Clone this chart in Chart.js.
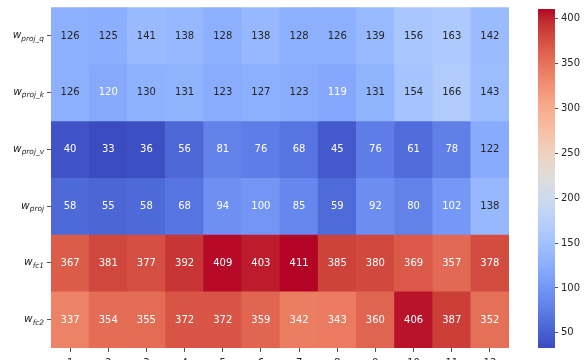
<!DOCTYPE html>
<html>
<head>
<meta charset="utf-8">
<script src="https://cdn.jsdelivr.net/npm/chart.js@4.4.0/dist/chart.umd.min.js"></script>
<style>
    html, body { margin: 0; padding: 0; background: #fff; }
    #wrap { position: relative; width: 587px; height: 360px; overflow: hidden; }
    #heat { position: absolute; left: 0; top: 0; }
    #cbar { position: absolute; left: 509px; top: 0; }
</style>
</head>
<body>
<div id="wrap">
    <canvas id="heat" width="509" height="360"></canvas>
    <canvas id="cbar" width="78" height="360"></canvas>
</div>
<script>
// layers (columns) and weight matrices (rows)
const layers = ['1', '2', '3', '4', '5', '6', '7', '8', '9', '10', '11', '12'];
const rowBase = 'w';
const rowSubs = ['proj_q', 'proj_k', 'proj_v', 'proj', 'fc1', 'fc2'];

const wProjQ = [126, 125, 141, 138, 128, 138, 128, 126, 139, 156, 163, 142];
const wProjK = [126, 120, 130, 131, 123, 127, 123, 119, 131, 154, 166, 143];
const wProjV = [40, 33, 36, 56, 81, 76, 68, 45, 76, 61, 78, 122];
const wProj = [58, 55, 58, 68, 94, 100, 85, 59, 92, 80, 102, 138];
const wFc1 = [367, 381, 377, 392, 409, 403, 411, 385, 380, 369, 357, 378];
const wFc2 = [337, 354, 355, 372, 372, 359, 342, 343, 360, 406, 387, 352];

const rows = [wProjQ, wProjK, wProjV, wProj, wFc1, wFc2];
const colorbarTicks = [50, 100, 150, 200, 250, 300, 350, 400];

const allVals = rows.flat();
const vmin = Math.min(...allVals);
const vmax = Math.max(...allVals);

const FONT = "'DejaVu Sans', sans-serif";
const INK = '#262626';

// coolwarm, 33 evenly spaced stops
const coolwarm = [
    [59, 76, 192], [68, 90, 204], [77, 104, 215], [87, 117, 225], [98, 130, 234],
    [108, 142, 241], [119, 154, 247], [130, 165, 251], [141, 176, 254], [152, 185, 255],
    [163, 194, 255], [174, 201, 253], [184, 208, 249], [194, 213, 244], [204, 217, 238],
    [213, 219, 230], [221, 221, 221], [229, 216, 209], [236, 211, 197], [241, 204, 184],
    [245, 196, 172], [247, 187, 160], [247, 177, 148], [247, 166, 137], [244, 154, 123],
    [241, 141, 111], [236, 127, 99], [229, 112, 88], [222, 96, 77], [213, 80, 66],
    [203, 62, 56], [192, 40, 47], [180, 4, 38]
];

const sampleMap = (t) => {
    t = Math.min(1, Math.max(0, t));
    const pos = t * (coolwarm.length - 1);
    const i = Math.min(coolwarm.length - 2, Math.floor(pos));
    const f = pos - i;
    return coolwarm[i].map((c, k) => c + (coolwarm[i + 1][k] - c) * f);
}

const rgbStr = (rgb) => `rgb(${rgb.map(Math.round).join(',')})`;
const colorFor = (v) => sampleMap((v - vmin) / (vmax - vmin));

// same rule seaborn uses to pick the annotation colour
const luminance = (rgb) => {
    const lin = rgb.map(c => {
        c = c / 255;
        return c <= 0.03928 ? c / 12.92 : Math.pow((c + 0.055) / 1.055, 2.4);
    });
    return 0.2126 * lin[0] + 0.7152 * lin[1] + 0.0722 * lin[2];
}

// one floating-bar dataset per row, spanning [r, r + 1] on the y scale
const datasets = rows.map((vals, r) => ({
    label: rowSubs[r],
    data: vals.map(() => [r, r + 1]),
    values: vals,
    backgroundColor: vals.map(v => rgbStr(colorFor(v))),
    borderWidth: 0,
    barPercentage: 1,
    categoryPercentage: 1,
    grouped: false
}));

// annotations in the middle of every cell
const cellLabels = {
    id: 'cellLabels',
    afterDatasetsDraw(chart) {
        const ctx = chart.ctx;
        ctx.save();
        ctx.font = `10px ${FONT}`;
        ctx.textAlign = 'center';
        ctx.textBaseline = 'middle';
        chart.data.datasets.forEach((ds, di) => {
            chart.getDatasetMeta(di).data.forEach((bar, i) => {
                const v = ds.values[i];
                const { x, y, base } = bar.getProps(['x', 'y', 'base'], true);
                ctx.fillStyle = luminance(colorFor(v)) > 0.408 ? INK : '#ffffff';
                ctx.fillText(String(v), x, (y + base) / 2 + 0.5);
            });
        });
        ctx.restore();
    }
};

// row names as w with an italic subscript
const rowLabels = {
    id: 'rowLabels',
    afterDraw(chart) {
        const ctx = chart.ctx;
        const yScale = chart.scales.y;
        const right = yScale.right - 7;
        ctx.save();
        ctx.fillStyle = INK;
        ctx.textBaseline = 'alphabetic';
        ctx.textAlign = 'left';
        rowSubs.forEach((sub, r) => {
            const yc = yScale.getPixelForValue(r + 0.5);
            ctx.font = `italic 7.4px ${FONT}`;
            const subW = ctx.measureText(sub).width;
            ctx.font = `italic 10.5px ${FONT}`;
            const baseW = ctx.measureText(rowBase).width;
            const x0 = right - subW - baseW;
            ctx.fillText(rowBase, x0, yc + 2.5);
            ctx.font = `italic 7.4px ${FONT}`;
            ctx.fillText(sub, x0 + baseW, yc + 5);
        });
        ctx.restore();
    }
};

new Chart(document.getElementById('heat'), {
    type: 'bar',
    data: { labels: layers, datasets: datasets },
    options: {
        responsive: false,
        animation: false,
        layout: { padding: { top: 7, left: 0, right: 0, bottom: 0 } },
        plugins: { legend: { display: false }, tooltip: { enabled: false } },
        scales: {
            x: {
                grid: { offset: false, drawOnChartArea: false, drawTicks: true, tickLength: 4, color: INK, tickWidth: 0.8 },
                border: { display: false },
                ticks: { color: INK, font: { family: FONT, size: 10 }, padding: 5, maxRotation: 0 },
                afterFit: (scale) => { scale.height = 12; }
            },
            y: {
                type: 'linear',
                min: 0,
                max: rows.length,
                reverse: true,
                afterBuildTicks: (scale) => { scale.ticks = rows.map((_, r) => ({ value: r + 0.5 })); },
                grid: { drawOnChartArea: false, drawTicks: true, tickLength: 4, color: INK, tickWidth: 0.8 },
                border: { display: false },
                ticks: { callback: () => '', padding: 0 },
                afterFit: (scale) => { scale.width = 51; }
            }
        }
    },
    plugins: [cellLabels, rowLabels]
});

// colour bar: one floating bar over the whole value range, filled with the colormap
new Chart(document.getElementById('cbar'), {
    type: 'bar',
    data: {
        labels: [''],
        datasets: [{
            data: [[vmin, vmax]],
            borderWidth: 0,
            barPercentage: 1,
            categoryPercentage: 1,
            backgroundColor: (ctx) => {
                const area = ctx.chart.chartArea;
                if (!area) return 'rgb(221,221,221)';
                const g = ctx.chart.ctx.createLinearGradient(0, area.bottom, 0, area.top);
                coolwarm.forEach((c, i) => g.addColorStop(i / (coolwarm.length - 1), rgbStr(c)));
                return g;
            }
        }]
    },
    options: {
        responsive: false,
        animation: false,
        layout: { padding: { top: 7, left: 29, right: 0, bottom: 12 } },
        plugins: { legend: { display: false }, tooltip: { enabled: false } },
        scales: {
            x: { display: false },
            y: {
                position: 'right',
                min: vmin,
                max: vmax,
                afterBuildTicks: (scale) => { scale.ticks = colorbarTicks.map(v => ({ value: v })); },
                grid: { drawOnChartArea: false, drawTicks: true, tickLength: 3, color: INK, tickWidth: 0.8 },
                border: { display: false },
                ticks: { color: INK, font: { family: FONT, size: 10 }, padding: 3 },
                afterFit: (scale) => { scale.width = 32; }
            }
        }
    }
});
</script>
</body>
</html>
